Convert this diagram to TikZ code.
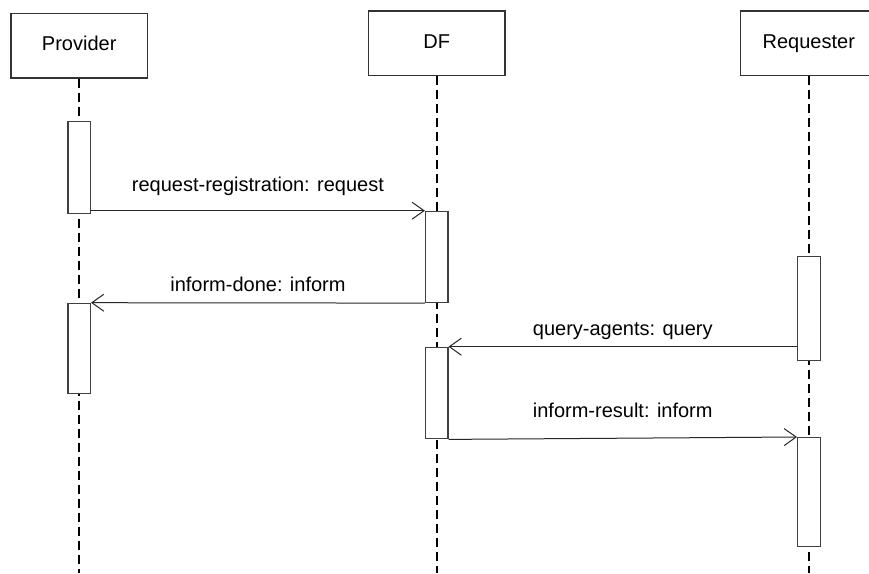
\documentclass[tikz,border=0pt]{standalone}
\usepackage{fontspec}
\setmainfont{Liberation Sans}
\usetikzlibrary{arrows.meta}
\begin{document}
\begin{tikzpicture}[x=1pt,y=-1pt,
  txt/.style={font=\fontsize{20pt}{24pt}\selectfont},
  actor/.style={txt,draw=black!80,line width=1.4pt,minimum width=136.5pt,
    minimum height=64.5pt,inner sep=0pt,anchor=north,text height=14pt,text depth=4pt},
  lifeline/.style={line width=2.3pt,dash pattern=on 9pt off 5pt},
  bar/.style={draw=black!75,fill=white,line width=1.1pt,minimum width=22.5pt,
    inner sep=0pt,anchor=north},
  msg/.style={draw=black!85,line width=1pt,
    -{Straight Barb[length=12pt,width=17pt,line width=1pt]}},
  lbl/.style={txt,anchor=base,inner sep=0pt}
]
\clip (0,0) rectangle (869,573);
\fill[white] (0,0) rectangle (869,573);

% participants
\node[actor] (prov) at (79.2,12.7) {Provider};
\node[actor] (df)   at (436.7,10.3) {DF};
\node[actor] (req)  at (808.8,10.3) {Requester};

% ends of the lifelines
\coordinate (provend) at (79.2,573);
\coordinate (dfend)   at (436.7,573);
\coordinate (reqend)  at (808.8,573);

\draw[lifeline] (prov.south) -- (provend);
\draw[lifeline] (df.south) -- (dfend);
\draw[lifeline] (req.south) -- (reqend);

% activation bars
\node[bar,minimum height=91.4pt]  (pb1) at (79.2,121.3) {};
\node[bar,minimum height=91.3pt]  (db1) at (436.7,210.7) {};
\node[bar,minimum height=90.6pt]  (pb2) at (79.2,302.7) {};
\node[bar,minimum height=104pt]   (rb1) at (808.8,256) {};
\node[bar,minimum height=91.6pt]  (db2) at (436.7,346.7) {};
\node[bar,minimum height=109pt]   (rb2) at (808.8,437) {};

% messages
\draw[msg] (pb1.east |- db1.north) -- (db1.north west)
  node[lbl,midway,yshift=19pt] {request-registration: request};
\draw[msg] (db1.south west) -- (pb2.north east)
  node[lbl,midway,yshift=11.5pt] {inform-done: inform};
\draw[msg] (rb1.west |- db2.north) -- (db2.north east)
  node[lbl,midway,yshift=11pt] {query-agents: query};
\draw[msg] (db2.south east) -- (rb2.north west)
  node[lbl,midway,yshift=20.5pt] {inform-result: inform};
\end{tikzpicture}
\end{document}
